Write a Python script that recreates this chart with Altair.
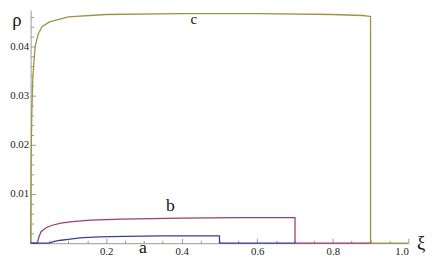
import altair as alt
import pandas as pd

# curve c
xi_c = [0, 0.001, 0.003, 0.006, 0.012, 0.02, 0.03, 0.05, 0.1, 0.2, 0.4, 0.6, 0.8, 0.88, 0.9, 0.9, 1.0]
rho_c = [0, 0.015, 0.026, 0.034, 0.040, 0.0425, 0.044, 0.045, 0.046, 0.0465, 0.0467, 0.0467, 0.0465, 0.0463, 0.0461, 0, 0]
# curve b
xi_b = [0, 0.018, 0.022, 0.028, 0.04, 0.055, 0.08, 0.11, 0.16, 0.24, 0.4, 0.55, 0.7, 0.7, 0.9]
rho_b = [0, 0, 0.0013, 0.0024, 0.0031, 0.0036, 0.0041, 0.0044, 0.0047, 0.0049, 0.0051, 0.0052, 0.0052, 0, 0]
# curve a
xi_a = [0, 0.05, 0.06, 0.08, 0.1, 0.13, 0.18, 0.25, 0.35, 0.5, 0.5, 0.7]
rho_a = [0, 0, 0.0003, 0.0006, 0.0008, 0.0011, 0.0013, 0.0014, 0.00147, 0.0015, 0, 0]

# axis ticks
x_major = [0.2, 0.4, 0.6, 0.8, 1.0]
x_minor = [0.05, 0.1, 0.15, 0.25, 0.3, 0.35, 0.45, 0.5, 0.55, 0.65, 0.7, 0.75, 0.85, 0.9, 0.95]
y_major = [0.01, 0.02, 0.03, 0.04]
y_minor = [0.002, 0.004, 0.006, 0.008, 0.012, 0.014, 0.016, 0.018, 0.022, 0.024, 0.026, 0.028,
           0.032, 0.034, 0.036, 0.038, 0.042, 0.044, 0.046]

# curve labels
lab_text = ["a", "b", "c"]
lab_xi = [0.297, 0.370, 0.432]
lab_rho = [-0.001, 0.0076, 0.0456]
lab_size = [18, 18, 15]

col_a, col_b, col_c = "#3d3d99", "#993d74", "#a09340"
SERIF = "Liberation Serif"
AX = "#999999"
W, H = 384, 237
Y_TOP = 0.0474


def curve(xi, rho):
    return pd.DataFrame({"xi": xi, "rho": rho, "i": list(range(len(xi)))})


xs = alt.Scale(domain=[0, 1.0], nice=False, zero=False)
ys = alt.Scale(domain=[0, Y_TOP], nice=False)

main_x = alt.Axis(orient="bottom", values=x_major, format=".1f", ticks=False, grid=False,
                  domainColor=AX, labelFont=SERIF, labelFontSize=11, labelColor="#222",
                  labelPadding=3, title="")
main_y = alt.Axis(orient="left", values=y_major, format=".2f", ticks=False, grid=False,
                  domainColor=AX, labelFont=SERIF, labelFontSize=11, labelColor="#222",
                  labelPadding=2, title="")

c_line = alt.Chart(curve(xi_c, rho_c)).mark_line(color=col_c, strokeWidth=1.3, clip=False).encode(
    x=alt.X("xi:Q", scale=xs, axis=main_x),
    y=alt.Y("rho:Q", scale=ys, axis=main_y),
    order="i:Q",
)
b_line = alt.Chart(curve(xi_b, rho_b)).mark_line(color=col_b, strokeWidth=1.3).encode(
    x=alt.X("xi:Q", scale=xs, axis=None),
    y=alt.Y("rho:Q", scale=ys, axis=None),
    order="i:Q",
)
a_line = alt.Chart(curve(xi_a, rho_a)).mark_line(color=col_a, strokeWidth=1.3).encode(
    x=alt.X("xi:Q", scale=xs, axis=None),
    y=alt.Y("rho:Q", scale=ys, axis=None),
    order="i:Q",
)


def tick_layer(xv, yv, size):
    ax = alt.Axis(orient="top", offset=-H, values=xv, ticks=True, tickSize=size, tickColor=AX,
                  labels=False, domain=False, grid=False, title="")
    ay = alt.Axis(orient="right", offset=-W, values=yv, ticks=True, tickSize=size, tickColor=AX,
                  labels=False, domain=False, grid=False, title="")
    return alt.Chart(curve(xi_c, rho_c)).mark_point(opacity=0).encode(
        x=alt.X("xi:Q", scale=xs, axis=ax),
        y=alt.Y("rho:Q", scale=ys, axis=ay),
    )


major = tick_layer(x_major, y_major, 5)
minor = tick_layer(x_minor, y_minor, 3)

labels = alt.Chart(pd.DataFrame({"t": lab_text, "xi": lab_xi, "rho": lab_rho, "s": lab_size})).mark_text(
    font=SERIF, color="#111", baseline="middle", align="center"
).encode(
    x=alt.X("xi:Q", scale=xs, axis=None),
    y=alt.Y("rho:Q", scale=ys, axis=None),
    text="t:N",
    size=alt.Size("s:Q", scale=None, legend=None),
)

ax_titles = alt.Chart(pd.DataFrame({"t": ["ρ", "ξ"], "xi": [-0.036, 1.034], "rho": [0.0454, 0.0]})).mark_text(
    font=SERIF, fontSize=19, color="#111", baseline="middle", align="center"
).encode(
    x=alt.X("xi:Q", scale=xs, axis=None),
    y=alt.Y("rho:Q", scale=ys, axis=None),
    text="t:N",
)

chart = alt.layer(c_line, b_line, a_line, major, minor, labels, ax_titles).resolve_axis(
    x="independent", y="independent"
).properties(
    width=W, height=H,
    autosize=alt.AutoSizeParams(type="none"),
    padding={"left": 23, "top": 0, "right": 20, "bottom": 17},
).configure_view(stroke=None)

chart.save("out.html", embed_options={"renderer": "svg", "actions": False})
